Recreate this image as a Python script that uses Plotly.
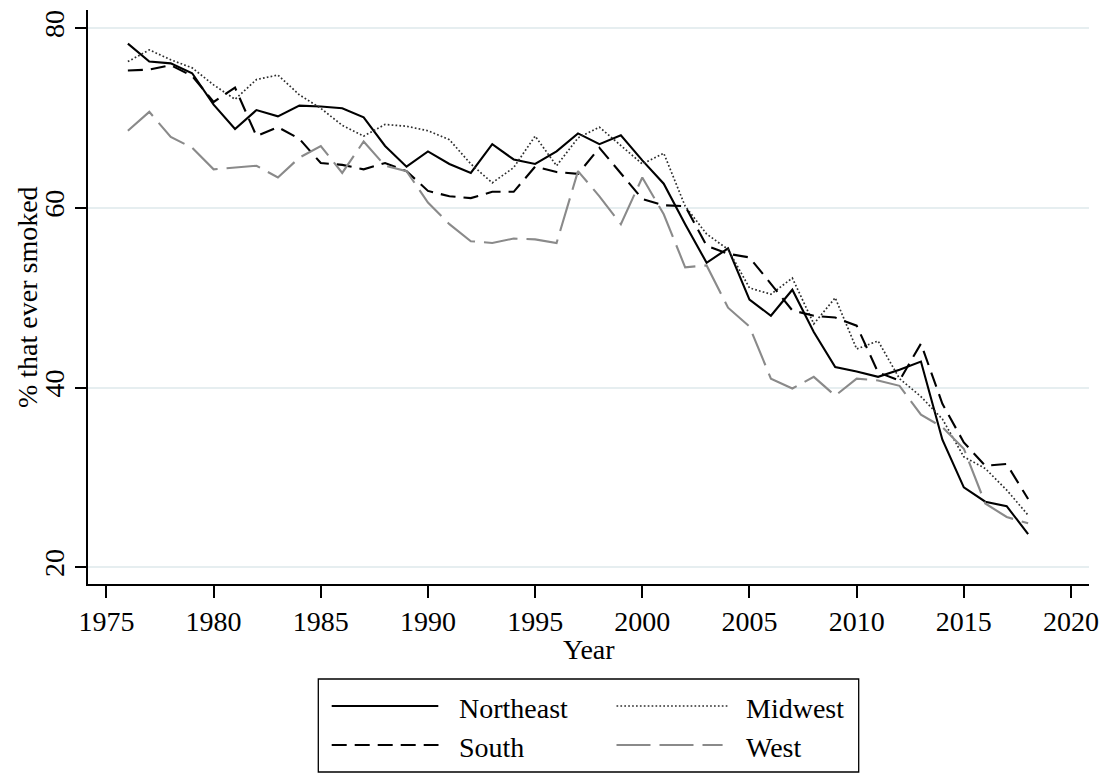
import plotly.graph_objects as go

years = list(range(1976, 2019))

northeast = [78.3, 76.3, 76.1, 75.0, 71.5, 68.8, 70.9, 70.2, 71.4, 71.3,
             71.1, 70.1, 66.9, 64.6, 66.3, 64.9, 63.9, 67.1, 65.4, 64.9,
             66.3, 68.3, 67.1, 68.1, 65.3, 62.7, 58.2, 53.9, 55.5, 49.8,
             48.0, 50.9, 46.2, 42.3, 41.8, 41.2, 42.0, 42.9, 34.2, 28.9,
             27.3, 26.8, 23.7]
midwest = [76.3, 77.6, 76.5, 75.6, 73.7, 72.1, 74.3, 74.8, 72.6, 71.1,
           69.2, 68.0, 69.3, 69.1, 68.6, 67.6, 64.9, 62.8, 64.5, 68.0,
           64.7, 67.8, 69.0, 67.0, 64.9, 66.1, 60.2, 57.1, 55.4, 51.1,
           50.4, 52.2, 47.1, 50.0, 44.3, 45.2, 41.0, 39.0, 36.5, 32.3,
           31.0, 28.6, 25.8]
south = [75.3, 75.4, 75.9, 74.7, 71.8, 73.4, 68.0, 69.0, 67.7, 65.0,
         64.8, 64.3, 65.0, 64.1, 61.9, 61.3, 61.1, 61.8, 61.8, 64.6,
         64.0, 63.8, 66.7, 63.9, 61.0, 60.3, 60.2, 55.8, 54.9, 54.5,
         51.5, 48.6, 48.0, 47.8, 46.9, 41.7, 40.8, 44.9, 38.2, 33.9,
         31.3, 31.5, 27.6]
west = [68.6, 70.7, 67.9, 66.7, 64.3, 64.5, 64.7, 63.4, 65.6, 66.9,
        63.9, 67.4, 64.7, 64.1, 60.6, 58.2, 56.3, 56.1, 56.6, 56.5,
        56.1, 64.1, 61.3, 58.2, 63.4, 59.3, 53.4, 53.6, 48.9, 46.8,
        41.0, 39.9, 41.2, 39.1, 41.0, 40.8, 40.2, 37.0, 35.6, 33.2,
        27.1, 25.6, 24.9]

series_names = ["Northeast", "Midwest", "South", "West"]
x_ticks = [1975, 1980, 1985, 1990, 1995, 2000, 2005, 2010, 2015, 2020]
y_ticks = [20, 40, 60, 80]
x_title = "Year"
y_title = "% that ever smoked"

FONT = "Liberation Serif, Times New Roman, serif"
FS = 28
W_TOT, H_TOT = 1108, 773
ML, MR, MT, MB = 88, 19, 10, 189
PW = W_TOT - ML - MR
PH = H_TOT - MT - MB

styles = {
    "Northeast": dict(color="black", width=2.1, dash="solid"),
    "Midwest": dict(color="#2e2e2e", width=1.7, dash="1.7px,2.2px"),
    "South": dict(color="black", width=2.1, dash="15px,8px"),
    "West": dict(color="#8a8a8a", width=2.1, dash="34px,9px"),
}
data = {"Northeast": northeast, "Midwest": midwest, "South": south, "West": west}

fig = go.Figure()
for name in series_names:
    fig.add_trace(go.Scatter(x=years, y=data[name], mode="lines", name=name,
                             line=styles[name], showlegend=False))


def px_x(px):
    return (px - ML) / PW


def px_y(py):
    return (MT + PH - py) / PH


shapes = [dict(type="rect", xref="paper", yref="paper",
               x0=px_x(318.3), x1=px_x(858.7), y0=px_y(679), y1=px_y(772),
               line=dict(color="black", width=1.3), fillcolor="white", layer="above")]
annotations = []
legend_pos = {
    "Northeast": (331.7, 438.3, 706, 456.7),
    "Midwest": (616.5, 728.0, 706, 744.0),
    "South": (331.7, 438.5, 745, 456.7),
    "West": (616.5, 722.6, 745, 744.0),
}
for name in series_names:
    x0, x1, yy, tx = legend_pos[name]
    st = styles[name]
    shapes.append(dict(type="line", xref="paper", yref="paper",
                       x0=px_x(x0), x1=px_x(x1), y0=px_y(yy), y1=px_y(yy),
                       line=dict(color=st["color"], width=st["width"], dash=st["dash"]),
                       layer="above"))
    annotations.append(dict(text=name, xref="paper", yref="paper",
                            x=px_x(tx), y=px_y(yy + 3), xanchor="left", yanchor="middle",
                            showarrow=False, font=dict(family=FONT, size=FS, color="black")))

# axis titles
annotations.append(dict(text=x_title, xref="paper", yref="paper",
                        x=px_x(588.5), y=px_y(649), xanchor="center", yanchor="middle",
                        showarrow=False, font=dict(family=FONT, size=FS, color="black")))
annotations.append(dict(text=y_title, xref="paper", yref="paper",
                        x=px_x(27), y=px_y(297), xanchor="center", yanchor="middle",
                        textangle=-90, showarrow=False,
                        font=dict(family=FONT, size=FS, color="black")))

fig.update_layout(
    width=W_TOT, height=H_TOT,
    margin=dict(l=ML, r=MR, t=MT, b=MB, autoexpand=False),
    paper_bgcolor="white", plot_bgcolor="white",
    font=dict(family=FONT, size=FS, color="black"),
    shapes=shapes, annotations=annotations,
    showlegend=False,
)
fig.update_xaxes(
    range=[1974.14, 2020.84], tickvals=x_ticks, ticktext=[str(v) for v in x_ticks],
    showline=True, linecolor="black", linewidth=1.5,
    ticks="outside", ticklen=12, tickwidth=1.5, tickcolor="black",
    showgrid=False, zeroline=False,
    tickfont=dict(family=FONT, size=FS),
)
fig.update_yaxes(
    range=[18.14, 82.04], tickvals=y_ticks, ticktext=[str(v) for v in y_ticks],
    showline=True, linecolor="black", linewidth=1.5,
    ticks="outside", ticklen=11, tickwidth=1.5, tickcolor="black",
    showgrid=True, gridcolor="#e6eef0", gridwidth=1.5, zeroline=False,
    tickangle=-90,
    tickfont=dict(family=FONT, size=FS),
)

fig.write_html("out.html",
               config={"displayModeBar": False},
               post_script="document.body.style.margin='0px';document.body.style.overflow='hidden';")
